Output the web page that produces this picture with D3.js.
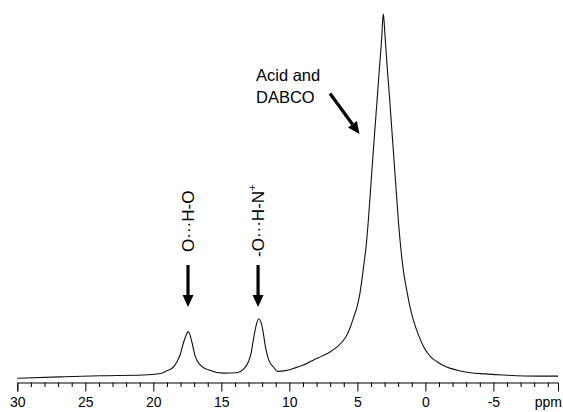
<!DOCTYPE html>
<html>
<head>
<meta charset="utf-8">
<script src="https://cdn.jsdelivr.net/npm/d3@7"></script>
<style>
  html, body { margin: 0; padding: 0; background: #fff; }
  svg { display: block; }
  text { font-family: "Liberation Sans", Arial, Helvetica, sans-serif; fill: #000; }
</style>
</head>
<body>
<svg id="chart" width="563" height="412"></svg>
<script>
// 1H MAS NMR spectrum: chemical shift (ppm) and signal intensity (arbitrary units)
const shiftPpm = [
  30.0, 26.84, 23.90, 20.74, 19.49, 18.97, 18.60, 18.26, 18.01, 17.79, 17.61, 17.45,
  17.32, 17.15, 16.91, 16.54, 15.96, 14.85, 13.85, 13.38, 13.01, 12.79, 12.65, 12.43,
  12.26, 12.10, 11.95, 11.76, 11.52, 11.15, 10.88, 10.29, 9.68, 8.97, 8.21, 7.57,
  6.99, 6.47, 6.01, 5.74, 5.51, 5.26, 5.02, 4.82, 4.67, 4.51, 4.36,
  4.19, 3.98, 3.73, 3.55, 3.37, 3.19, 3.15, 3.09, 3.03, 2.98, 2.81, 2.62, 2.45,
  2.20, 1.99, 1.74, 1.57, 1.37, 1.16, 0.88, 0.51, 0.13, -0.37,
  -0.86, -1.32, -1.84, -2.57, -3.31, -4.41, -5.76, -8.21, -9.75
];
const intensity = [
  1.0, 1.4, 1.7, 1.9, 2.3, 3.1, 3.8, 5.5, 7.6, 10.6, 12.5, 13.7,
  13.0, 10.6, 6.9, 4.6, 3.3, 2.4, 2.5, 3.5, 5.5, 8.2, 11.4, 15.5,
  17.1, 16.4, 14.1, 9.6, 6.0, 4.0, 2.9, 3.1, 3.7, 4.6, 6.0, 7.1,
  8.2, 9.6, 11.4, 13.0, 15.0, 17.7, 20.5, 23.9, 27.7, 32.3, 36.8,
  44.0, 54.9, 67.7, 76.6, 85.7, 94.8, 97.8, 100, 97.8, 94.8, 85.7, 76.6, 67.7,
  54.9, 44.0, 34.0, 29.1, 25.0, 20.9, 16.8, 12.8, 9.6, 6.9,
  5.5, 4.5, 3.7, 3.0, 2.5, 2.2, 1.9, 1.6, 1.6
];

// Axis ticks
const majorTicks = [30, 25, 20, 15, 10, 5, 0, -5];
const majorLabels = ["30", "25", "20", "15", "10", "5", "0", "-5"];
const axisUnit = "ppm";

// Peak annotations
const peakShifts = [17.45, 12.3];
const peakLabels = [["O\u00B7\u00B7\u00B7H-O", ""], ["-O\u00B7\u00B7\u00B7H-N", "+"]];
const mainPeakLabel = ["Acid and", "DABCO"];

const svg = d3.select("#chart");

const x = d3.scaleLinear().domain([30, -9.75]).range([17.3, 558]);
const y = d3.scaleLinear().domain([0, 100]).range([382, 14]);

// Spectrum trace
const points = shiftPpm.map((p, i) => [p, intensity[i]]);
const line = d3.line()
  .x(d => x(d[0]))
  .y(d => y(d[1]))
  .curve(d3.curveMonotoneX);

svg.append("path")
  .datum(points)
  .attr("d", line)
  .attr("fill", "none")
  .attr("stroke", "#111")
  .attr("stroke-width", 1.1)
  .attr("stroke-linejoin", "round");

// Minor ticks every 1 ppm
const minorTicks = d3.range(30, -10, -1).filter(v => majorTicks.indexOf(v) < 0);
const minorAxis = svg.append("g")
  .attr("transform", "translate(0,382.5)")
  .call(d3.axisBottom(x).tickValues(minorTicks).tickSize(4.5).tickSizeOuter(0).tickFormat(""));
minorAxis.select(".domain").remove();

// Major ticks with labels
const majorAxis = svg.append("g")
  .attr("transform", "translate(0,382.5)")
  .call(d3.axisBottom(x)
    .tickValues(majorTicks)
    .tickSize(9)
    .tickSizeOuter(9)
    .tickPadding(6)
    .tickFormat((d, i) => majorLabels[i]));

svg.selectAll(".tick line, .domain").attr("stroke", "#000").attr("stroke-width", 1);
majorAxis.selectAll("text")
  .attr("font-size", 14)
  .style("font-family", '"Liberation Sans", Arial, sans-serif')
  .attr("fill", "#000");

svg.append("text")
  .attr("x", 562)
  .attr("y", 406.5)
  .attr("text-anchor", "end")
  .attr("font-size", 14)
  .text(axisUnit);

// Arrow helper: shaft plus filled triangular head ending at (x2, y2)
function arrow(x1, y1, x2, y2) {
  const ang = Math.atan2(y2 - y1, x2 - x1);
  const headLen = 12, headHalf = 5.5;
  const bx = x2 - headLen * Math.cos(ang), by = y2 - headLen * Math.sin(ang);
  svg.append("line")
    .attr("x1", x1).attr("y1", y1).attr("x2", bx).attr("y2", by)
    .attr("stroke", "#000").attr("stroke-width", 3.2);
  const px = -Math.sin(ang) * headHalf, py = Math.cos(ang) * headHalf;
  svg.append("path")
    .attr("d", d3.line()([[x2, y2], [bx + px, by + py], [bx - px, by - py]]) + "Z")
    .attr("fill", "#000");
}

// Hydrogen-bond labels (rotated) and their arrows
const labelStart = [252, 257];
peakShifts.forEach((p, i) => {
  const cx = x(p);
  const t = svg.append("text")
    .attr("transform", `translate(${cx},${labelStart[i]}) rotate(-90)`)
    .attr("text-anchor", "start")
    .attr("dominant-baseline", "central")
    .attr("font-size", 17);
  t.append("tspan").text(peakLabels[i][0]);
  if (peakLabels[i][1]) {
    t.append("tspan")
      .attr("font-size", 11.5)
      .attr("dy", -6)
      .text(peakLabels[i][1]);
  }
  arrow(cx, 265, cx, 307);
});

// Main peak label with diagonal arrow
const mp = svg.append("text").attr("font-size", 16.5);
mainPeakLabel.forEach((s, i) => {
  mp.append("tspan").attr("x", 256).attr("y", 80.7 + i * 22).text(s);
});
arrow(330, 93.5, 359.5, 134);
</script>
</body>
</html>
